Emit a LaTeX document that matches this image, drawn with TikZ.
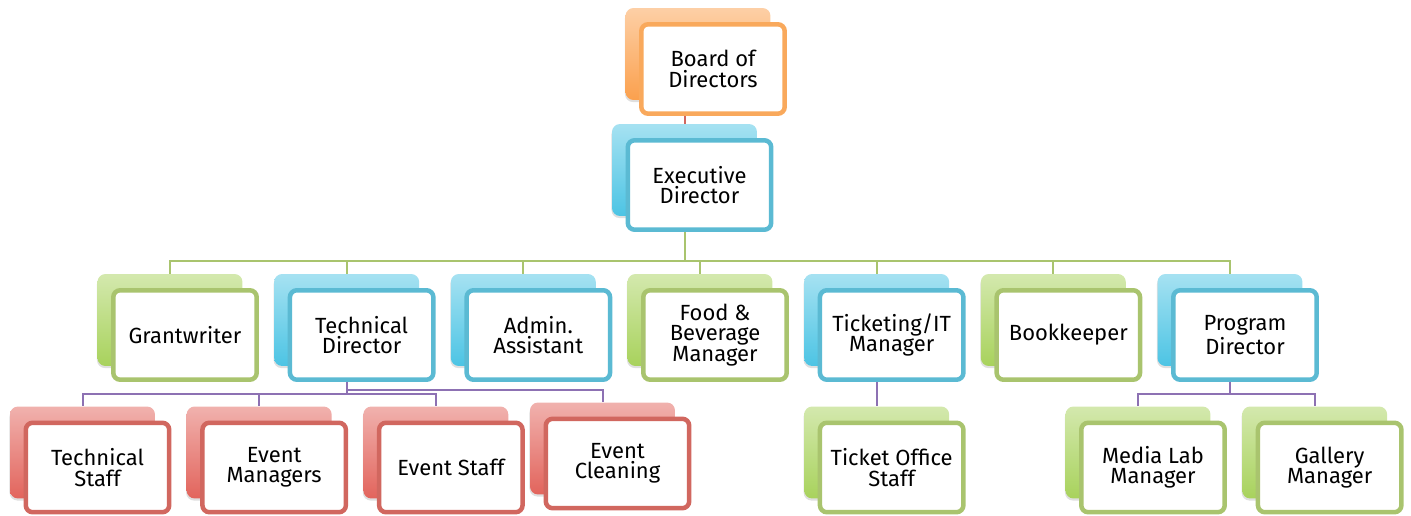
\documentclass[tikz,border=0pt]{standalone}
\usepackage{fontspec}
\setmainfont{Fira Sans}
\usetikzlibrary{positioning,shadows}

\definecolor{bkOrange}{HTML}{FBA04D}
\definecolor{lnOrange}{HTML}{F9A95C}
\definecolor{bkBlue}{HTML}{4CC4E4}
\definecolor{lnBlue}{HTML}{5BBAD3}
\definecolor{bkGreen}{HTML}{A8D25C}
\definecolor{lnGreen}{HTML}{A9C46E}
\definecolor{bkRed}{HTML}{E2645C}
\definecolor{lnRed}{HTML}{D1675F}
\definecolor{lnPurple}{HTML}{8D71B3}

\begin{document}
\begin{tikzpicture}[
      x=0.02cm,y=-0.02cm,
      node distance=0.62cm,
      back/.style={rectangle,rounded corners=0.16cm,minimum width=2.9cm,minimum height=1.84cm,
        top color=#1!50!white,middle color=#1!82!white,bottom color=#1,
        drop shadow={shadow xshift=-0.3pt,shadow yshift=-1.2pt,opacity=0.25}},
      card/.style={rectangle,rounded corners=0.14cm,draw=#1,line width=0.09cm,fill=white,align=center,
        minimum width=2.87cm,minimum height=1.79cm,inner sep=2pt,font=\fontsize{12.5}{11.6}\selectfont},
      link/.style={draw=#1,line width=0.04cm}
    ]
    \useasboundingbox (0,0) rectangle (1411,516);
    % back plates
    \node[back=bkOrange] (bod-b) at (698,54) {};
    \node[back=bkBlue] (ed-b) at (684.5,170) {};
    \node[back=bkGreen] (gw-b) at (170,320) {};
    \node[back=bkBlue,right=of gw-b] (td-b) {};
    \node[back=bkBlue,right=of td-b] (aa-b) {};
    \node[back=bkGreen,right=of aa-b] (fb-b) {};
    \node[back=bkBlue,right=of fb-b] (tk-b) {};
    \node[back=bkGreen,right=of tk-b] (bk-b) {};
    \node[back=bkBlue,right=of bk-b] (pd-b) {};
    \node[back=bkRed] (ts-b) at (82.5,452.5) {};
    \node[back=bkRed,right=of ts-b] (em-b) {};
    \node[back=bkRed,right=of em-b] (es-b) {};
    \node[back=bkRed,right=0.42cm of es-b,yshift=0.08cm] (ec-b) {};
    \node[back=bkGreen] (tos-b) at (tk-b |- ts-b) {};
    \node[back=bkGreen] (ml-b) at (1138,452.5) {};
    \node[back=bkGreen,right=of ml-b] (gm-b) {};
    % front cards
    \node[card=lnOrange] (bod) at ([shift={(15,15)}]bod-b) {Board of\\Directors};
    \node[card=lnBlue] (ed) at ([shift={(15,15)}]ed-b) {Executive\\Director};
    \node[card=lnGreen] (gw) at ([shift={(15,15)}]gw-b) {Grantwriter};
    \node[card=lnBlue] (td) at ([shift={(15,15)}]td-b) {Technical\\Director};
    \node[card=lnBlue] (aa) at ([shift={(15,15)}]aa-b) {Admin.\\Assistant};
    \node[card=lnGreen] (fb) at ([shift={(15,15)}]fb-b) {Food \&\\Beverage\\Manager};
    \node[card=lnBlue] (tk) at ([shift={(15,15)}]tk-b) {Ticketing/IT\\Manager};
    \node[card=lnGreen] (bk) at ([shift={(15,15)}]bk-b) {Bookkeeper};
    \node[card=lnBlue] (pd) at ([shift={(15,15)}]pd-b) {Program\\Director};
    \node[card=lnRed] (ts) at ([shift={(15,15)}]ts-b) {Technical\\Staff};
    \node[card=lnRed] (em) at ([shift={(15,15)}]em-b) {Event\\Managers};
    \node[card=lnRed] (es) at ([shift={(15,15)}]es-b) {Event Staff};
    \node[card=lnRed] (ec) at ([shift={(15,15)}]ec-b) {Event\\Cleaning};
    \node[card=lnGreen] (tos) at ([shift={(15,15)}]tos-b) {Ticket Office\\Staff};
    \node[card=lnGreen] (ml) at ([shift={(15,15)}]ml-b) {Media Lab\\Manager};
    \node[card=lnGreen] (gm) at ([shift={(15,15)}]gm-b) {Gallery\\Manager};
    % connectors
    \draw[link=lnRed] (ed-b.north |- bod.south) -- (ed-b.north);
    \draw[link=lnGreen] (ed-b |- ed.south) -- ++(0,29) coordinate (bus2);
    \foreach \n in {gw,td,aa,fb,tk,bk,pd}
      \draw[link=lnGreen] (bus2) -| (\n-b.north);
    \draw[link=lnPurple] (td-b |- td.south) -- ++(0,12.5) coordinate (bus3);
    \foreach \n in {ts,em,es}
      \draw[link=lnPurple] (bus3) -| (\n-b.north);
    \draw[link=lnPurple] (td-b |- td.south) -- ++(0,8.5) -| (ec-b.north);
    \draw[link=lnPurple] (tk-b |- tk.south) -- (tos-b.north);
    \draw[link=lnPurple] (pd-b |- pd.south) -- ++(0,12.5) coordinate (bus4);
    \foreach \n in {ml,gm}
      \draw[link=lnPurple] (bus4) -| (\n-b.north);
  \end{tikzpicture}
\end{document}
